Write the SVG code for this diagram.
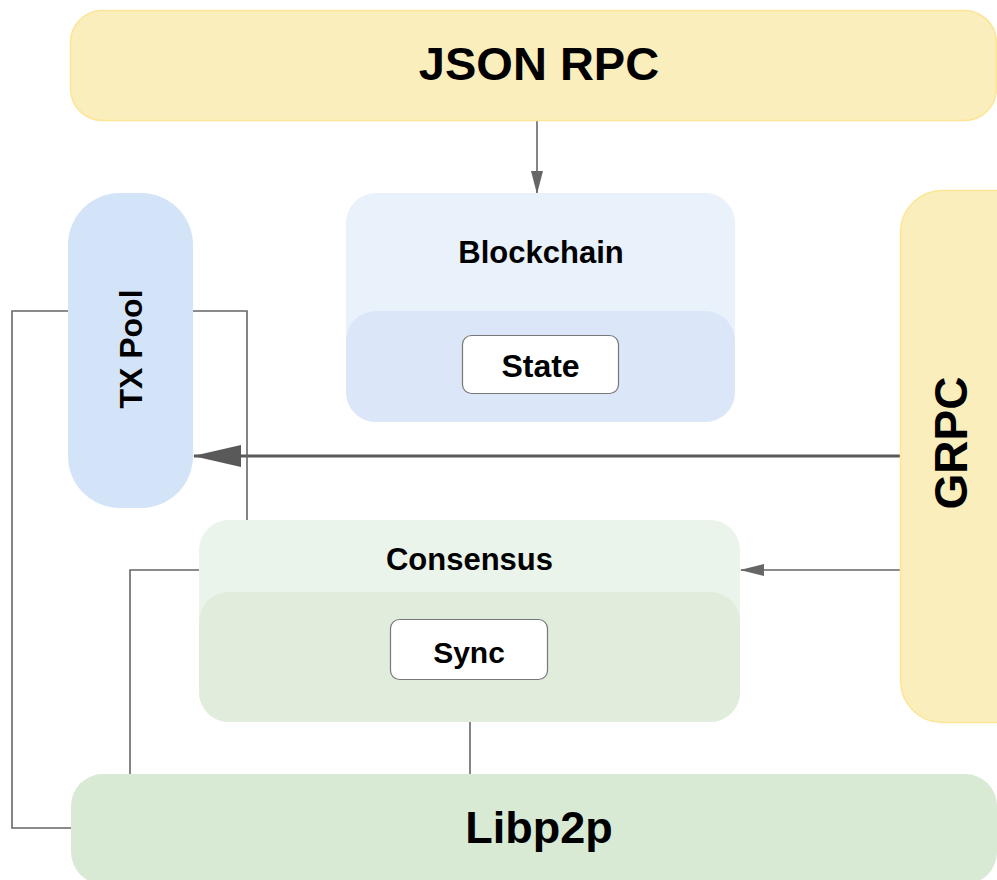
<svg xmlns="http://www.w3.org/2000/svg" width="997" height="880" viewBox="0 0 997 880">
<style>
text{font-family:"Liberation Sans",Arial,sans-serif;font-weight:bold;fill:#000;text-anchor:middle}
.conn{fill:none;stroke:#666;stroke-width:1.6}
.inner{fill:#fff;stroke:#777;stroke-width:1.2}
</style>
<defs>
<marker id="arr" markerWidth="23" markerHeight="12" refX="22" refY="6" orient="auto" markerUnits="userSpaceOnUse" viewBox="0 0 23 12">
<path d="M0,0 L23,6 L0,12 Z" fill="#666"/>
</marker>
<marker id="arrBig" markerWidth="48" markerHeight="22" refX="47" refY="11" orient="auto" markerUnits="userSpaceOnUse" viewBox="0 0 48 22">
<path d="M0,0 L48,11 L0,22 Z" fill="#595959"/>
</marker>
<marker id="arrMid" markerWidth="24" markerHeight="12" refX="23" refY="6" orient="auto" markerUnits="userSpaceOnUse" viewBox="0 0 24 12">
<path d="M0,0 L24,6 L0,12 Z" fill="#666"/>
</marker>
</defs>

<g id="connectors">
<line class="conn" x1="537" y1="121" x2="537" y2="193" stroke-width="2" marker-end="url(#arr)"/>
<line x1="900" y1="456" x2="194" y2="456" stroke="#595959" stroke-width="3.2" marker-end="url(#arrBig)"/>
<line class="conn" x1="900" y1="570" x2="741" y2="570" marker-end="url(#arrMid)"/>
<polyline class="conn" points="68,311 12,311 12,828 71,828"/>
<polyline class="conn" points="193,311 247,311 247,520"/>
<polyline class="conn" points="199,570 130,570 130,774"/>
<line class="conn" x1="470" y1="680" x2="470" y2="774"/>
</g>

<g id="json-rpc">
<rect x="70.5" y="10.5" width="926" height="110" rx="32" fill="#fbeebd" stroke="#fde596" stroke-width="1.5"/>
<text x="539" y="80" font-size="47">JSON RPC</text>
</g>

<g id="tx-pool">
<rect x="68" y="193" width="125" height="315" rx="52" fill="#d3e3f8"/>
<text transform="translate(142,349) rotate(-90)" font-size="32">TX Pool</text>
</g>

<g id="blockchain">
<rect x="346" y="193" width="389" height="229" rx="30" fill="#e9f1fb"/>
<path d="M346,341 a30,30 0 0 1 30,-30 h329 a30,30 0 0 1 30,30 v51 a30,30 0 0 1 -30,30 h-329 a30,30 0 0 1 -30,-30 Z" fill="#dbe7f8"/>
<text x="541" y="263" font-size="31">Blockchain</text>
<g id="state">
<rect class="inner" x="462.5" y="335.5" width="156" height="58" rx="9"/>
<text x="540.5" y="377" font-size="32">State</text>
</g>
</g>

<g id="grpc">
<rect x="900.5" y="190.5" width="140" height="532" rx="42" fill="#fbeebd" stroke="#fde596" stroke-width="1.5"/>
<text transform="translate(967,443) rotate(-90)" font-size="46">GRPC</text>
</g>

<g id="consensus">
<rect x="199" y="520" width="541" height="202" rx="30" fill="#eaf4ea"/>
<path d="M199,622 a30,30 0 0 1 30,-30 h481 a30,30 0 0 1 30,30 v70 a30,30 0 0 1 -30,30 h-481 a30,30 0 0 1 -30,-30 Z" fill="#e0ecdc"/>
<text x="469.5" y="570" font-size="31">Consensus</text>
<g id="sync">
<rect class="inner" x="390.5" y="619.5" width="157" height="60" rx="9"/>
<text x="469" y="663" font-size="30">Sync</text>
</g>
</g>

<g id="libp2p">
<rect x="71" y="774" width="926" height="110" rx="32" fill="#d8ead4"/>
<text x="539" y="843" font-size="45">Libp2p</text>
</g>
</svg>
